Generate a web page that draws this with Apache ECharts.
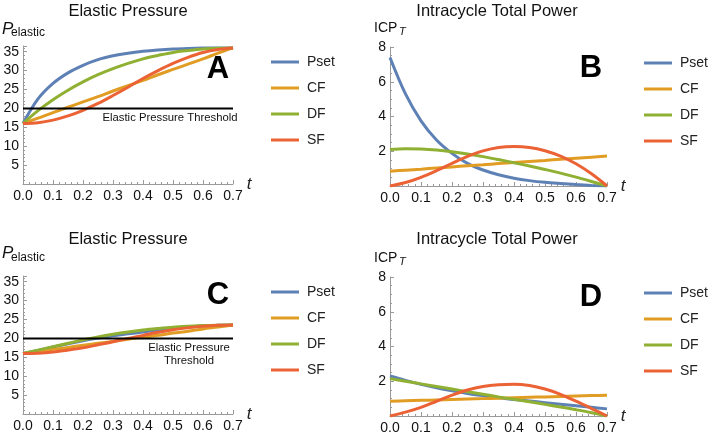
<!DOCTYPE html>
<html>
<head>
<meta charset="utf-8">
<script src="https://cdn.jsdelivr.net/npm/echarts@6/dist/echarts.min.js"></script>
<style>
html,body{margin:0;padding:0;background:#fff;}
#chart{width:712px;height:436px;}
</style>
</head>
<body>
<div id="chart"></div>
<script>
// ---------- data ----------
const t = [0, 0.05, 0.1, 0.15, 0.2, 0.25, 0.3, 0.35, 0.4, 0.45, 0.5, 0.55, 0.6, 0.65, 0.7];
const seriesNames = ['Pset', 'CF', 'DF', 'SF'];
const xTicks = [0, 0.1, 0.2, 0.3, 0.4, 0.5, 0.6, 0.7];
const threshold = 20;

// Panel A : Elastic Pressure
const psetA = [16, 22.5, 26.6, 29.4, 31.4, 32.9, 33.9, 34.6, 35.1, 35.45, 35.7, 35.85, 35.95, 36.0, 36.0];
const cfA   = [16, 17.4, 18.9, 20.3, 21.7, 23.1, 24.6, 26.0, 27.4, 28.9, 30.3, 31.7, 33.1, 34.6, 36.0];
const dfA   = [16, 19.4, 22.3, 24.8, 27.0, 28.9, 30.5, 31.9, 33.1, 34.0, 34.8, 35.3, 35.7, 35.9, 36.0];
const sfA   = [16, 16.2, 16.9, 18.0, 19.5, 21.3, 23.4, 25.6, 27.9, 30.0, 31.9, 33.5, 34.8, 35.6, 36.0];

// Panel B : Intracycle Total Power
const psetB = [7.4, 5.3, 3.75, 2.65, 1.88, 1.3, 0.92, 0.65, 0.45, 0.31, 0.21, 0.14, 0.08, 0.035, 0.0];
const cfB   = [0.85, 0.91, 0.97, 1.04, 1.10, 1.16, 1.22, 1.29, 1.35, 1.41, 1.47, 1.54, 1.60, 1.66, 1.72];
const dfB   = [2.1, 2.15, 2.13, 2.07, 1.97, 1.84, 1.69, 1.52, 1.34, 1.15, 0.95, 0.74, 0.51, 0.26, 0.0];
const sfB   = [0, 0.2, 0.5, 0.88, 1.3, 1.7, 2.02, 2.22, 2.28, 2.22, 2.03, 1.72, 1.28, 0.7, 0.0];

// Panel C : Elastic Pressure
const psetC = [16, 16.8, 17.7, 18.6, 19.4, 20.1, 20.7, 21.2, 21.7, 22.2, 22.6, 23.0, 23.3, 23.45, 23.55];
const cfC   = [16, 16.5, 17.1, 17.6, 18.2, 18.7, 19.2, 19.8, 20.3, 20.8, 21.4, 21.9, 22.5, 23.0, 23.55];
const dfC   = [16, 16.9, 17.8, 18.7, 19.6, 20.4, 21.1, 21.7, 22.2, 22.6, 22.95, 23.2, 23.4, 23.5, 23.55];
const sfC   = [16, 16.1, 16.4, 16.9, 17.5, 18.3, 19.1, 20.0, 20.8, 21.6, 22.3, 22.8, 23.2, 23.45, 23.55];

// Panel D : Intracycle Total Power
const psetD = [2.3, 2.05, 1.82, 1.62, 1.45, 1.3, 1.17, 1.05, 0.95, 0.86, 0.77, 0.68, 0.59, 0.5, 0.41];
const cfD   = [0.85, 0.875, 0.9, 0.925, 0.95, 0.975, 1.0, 1.025, 1.05, 1.075, 1.1, 1.125, 1.15, 1.175, 1.2];
const dfD   = [2.15, 2.0, 1.85, 1.7, 1.55, 1.4, 1.25, 1.1, 0.96, 0.82, 0.67, 0.52, 0.36, 0.19, 0.0];
const sfD   = [0, 0.22, 0.5, 0.85, 1.2, 1.5, 1.7, 1.8, 1.83, 1.75, 1.55, 1.25, 0.85, 0.43, 0.0];

const panelTitles = ['Elastic Pressure', 'Intracycle Total Power', 'Elastic Pressure', 'Intracycle Total Power'];
const panelLetters = ['A', 'B', 'C', 'D'];
const thresholdLabel = 'Elastic Pressure Threshold';

// ---------- styling / layout ----------
const FONT = '"Liberation Sans", Arial, Helvetica, sans-serif';
const colors = ['#5E81B5', '#E19C24', '#8FB032', '#EB6235'];
const axisGray = '#9a9a9a';

const panels = [
  {sets: [psetA, cfA, dfA, sfA], ymax: 36.5, yint: 5, yminor: 5, thr: true},
  {sets: [psetB, cfB, dfB, sfB], ymax: 8, yint: 2, yminor: 4, thr: false},
  {sets: [psetC, cfC, dfC, sfC], ymax: 36.5, yint: 5, yminor: 5, thr: true},
  {sets: [psetD, cfD, dfD, sfD], ymax: 8, yint: 2, yminor: 4, thr: false}
];
const grids = [
  {left: 23, top: 46, width: 210, height: 138},
  {left: 390, top: 47, width: 217, height: 139},
  {left: 23, top: 276, width: 210, height: 138},
  {left: 390, top: 277, width: 217, height: 139}
];

const xAxes = grids.map((g, i) => ({
  gridIndex: i, type: 'value', min: 0, max: 0.7, interval: 0.1,
  name: 't', nameLocation: 'end', nameGap: 11,
  nameTextStyle: {fontFamily: FONT, fontStyle: 'italic', fontSize: 17, color: '#222', verticalAlign: 'middle', padding: [0, 0, 6, 0]},
  axisLine: {show: true, onZero: false, lineStyle: {color: axisGray, width: 1}},
  axisTick: {show: true, inside: true, length: 4, lineStyle: {color: axisGray}},
  minorTick: {show: true, splitNumber: 5, length: 2, lineStyle: {color: axisGray}},
  splitLine: {show: false},
  axisLabel: {fontFamily: FONT, fontSize: 14, color: '#111', margin: 5,
    formatter: v => v.toFixed(1)}
}));

const yAxes = panels.map((p, i) => ({
  gridIndex: i, type: 'value', min: 0, max: p.ymax, interval: p.yint,
  axisLine: {show: true, onZero: false, lineStyle: {color: axisGray, width: 1}},
  axisTick: {show: true, inside: true, length: 4, lineStyle: {color: axisGray}},
  minorTick: {show: true, splitNumber: p.yminor, length: 2, lineStyle: {color: axisGray}},
  splitLine: {show: false},
  axisLabel: {fontFamily: FONT, fontSize: 14, color: '#111', margin: 4,
    formatter: v => (v === 0 || Math.abs(v % p.yint) > 1e-9) ? '' : String(v)}
}));

const series = [];
panels.forEach((p, i) => {
  p.sets.forEach((arr, k) => {
    series.push({
      name: seriesNames[k], type: 'line', xAxisIndex: i, yAxisIndex: i,
      data: t.map((x, j) => [x, arr[j]]),
      smooth: 0.35, showSymbol: false, symbol: 'none',
      lineStyle: {color: colors[k], width: 3}, itemStyle: {color: colors[k]},
      z: 2 + k
    });
  });
  if (p.thr) {
    series.push({
      name: 'threshold', type: 'line', xAxisIndex: i, yAxisIndex: i,
      data: [[xTicks[0], threshold], [xTicks[xTicks.length - 1], threshold]],
      showSymbol: false, symbol: 'none',
      lineStyle: {color: '#000', width: 2}, z: 10
    });
  }
});

const legendPos = [
  {left: 271, top: 54},
  {left: 644, top: 55},
  {left: 271, top: 284},
  {left: 644, top: 285}
];
const legends = legendPos.map(lp => ({
  orient: 'vertical', left: lp.left, top: lp.top, padding: 0,
  data: seriesNames, icon: 'rect', itemWidth: 28, itemHeight: 3, itemGap: 10,
  selectedMode: false,
  textStyle: {fontFamily: FONT, fontSize: 14, color: '#222', lineHeight: 16, padding: [0, 0, 0, 3]}
}));

const titleTexts = [
  {x: 128, y: 11}, {x: 497, y: 11}, {x: 128, y: 239}, {x: 497, y: 239}
];
const letterPos = [
  {x: 218, y: 69}, {x: 591, y: 68}, {x: 218, y: 295}, {x: 591, y: 297}
];

const graphic = [];
titleTexts.forEach((p, i) => graphic.push({
  type: 'text', x: p.x, y: p.y,
  style: {text: panelTitles[i], font: '16.5px ' + FONT, fill: '#111', align: 'center', verticalAlign: 'middle'}
}));
letterPos.forEach((p, i) => graphic.push({
  type: 'text', x: p.x, y: p.y,
  style: {text: panelLetters[i], font: 'bold 31px ' + FONT, fill: '#000', align: 'center', verticalAlign: 'middle'}
}));
// y-axis names
[[2, 29, 11, 33], [2, 253, 11, 258]].forEach(a => {
  graphic.push({type: 'text', x: a[0], y: a[1], style: {text: 'P', font: 'italic 17px ' + FONT, fill: '#111', align: 'left', verticalAlign: 'middle'}});
  graphic.push({type: 'text', x: a[2], y: a[3], style: {text: 'elastic', font: '12px ' + FONT, fill: '#111', align: 'left', verticalAlign: 'middle'}});
});
[[374, 28.5, 399, 32], [374, 258, 399, 262]].forEach(a => {
  graphic.push({type: 'text', x: a[0], y: a[1], style: {text: 'ICP', font: '14px ' + FONT, fill: '#111', align: 'left', verticalAlign: 'middle'}});
  graphic.push({type: 'text', x: a[2], y: a[3], style: {text: 'T', font: 'italic 11px ' + FONT, fill: '#111', align: 'left', verticalAlign: 'middle'}});
});
// threshold labels
graphic.push({type: 'text', x: 170, y: 118, style: {text: thresholdLabel, font: '11.3px ' + FONT, fill: '#111', align: 'center', verticalAlign: 'middle'}});
graphic.push({type: 'text', x: 189, y: 354, style: {text: 'Elastic Pressure\nThreshold', font: '11.3px ' + FONT, lineHeight: 13, fill: '#111', align: 'center', verticalAlign: 'middle'}});

const chart = echarts.init(document.getElementById('chart'), null, {renderer: 'canvas'});
chart.setOption({
  animation: false,
  backgroundColor: '#fff',
  grid: grids.map(g => Object.assign({containLabel: false}, g)),
  xAxis: xAxes,
  yAxis: yAxes,
  legend: legends,
  series: series,
  graphic: graphic
});
</script>
</body>
</html>
